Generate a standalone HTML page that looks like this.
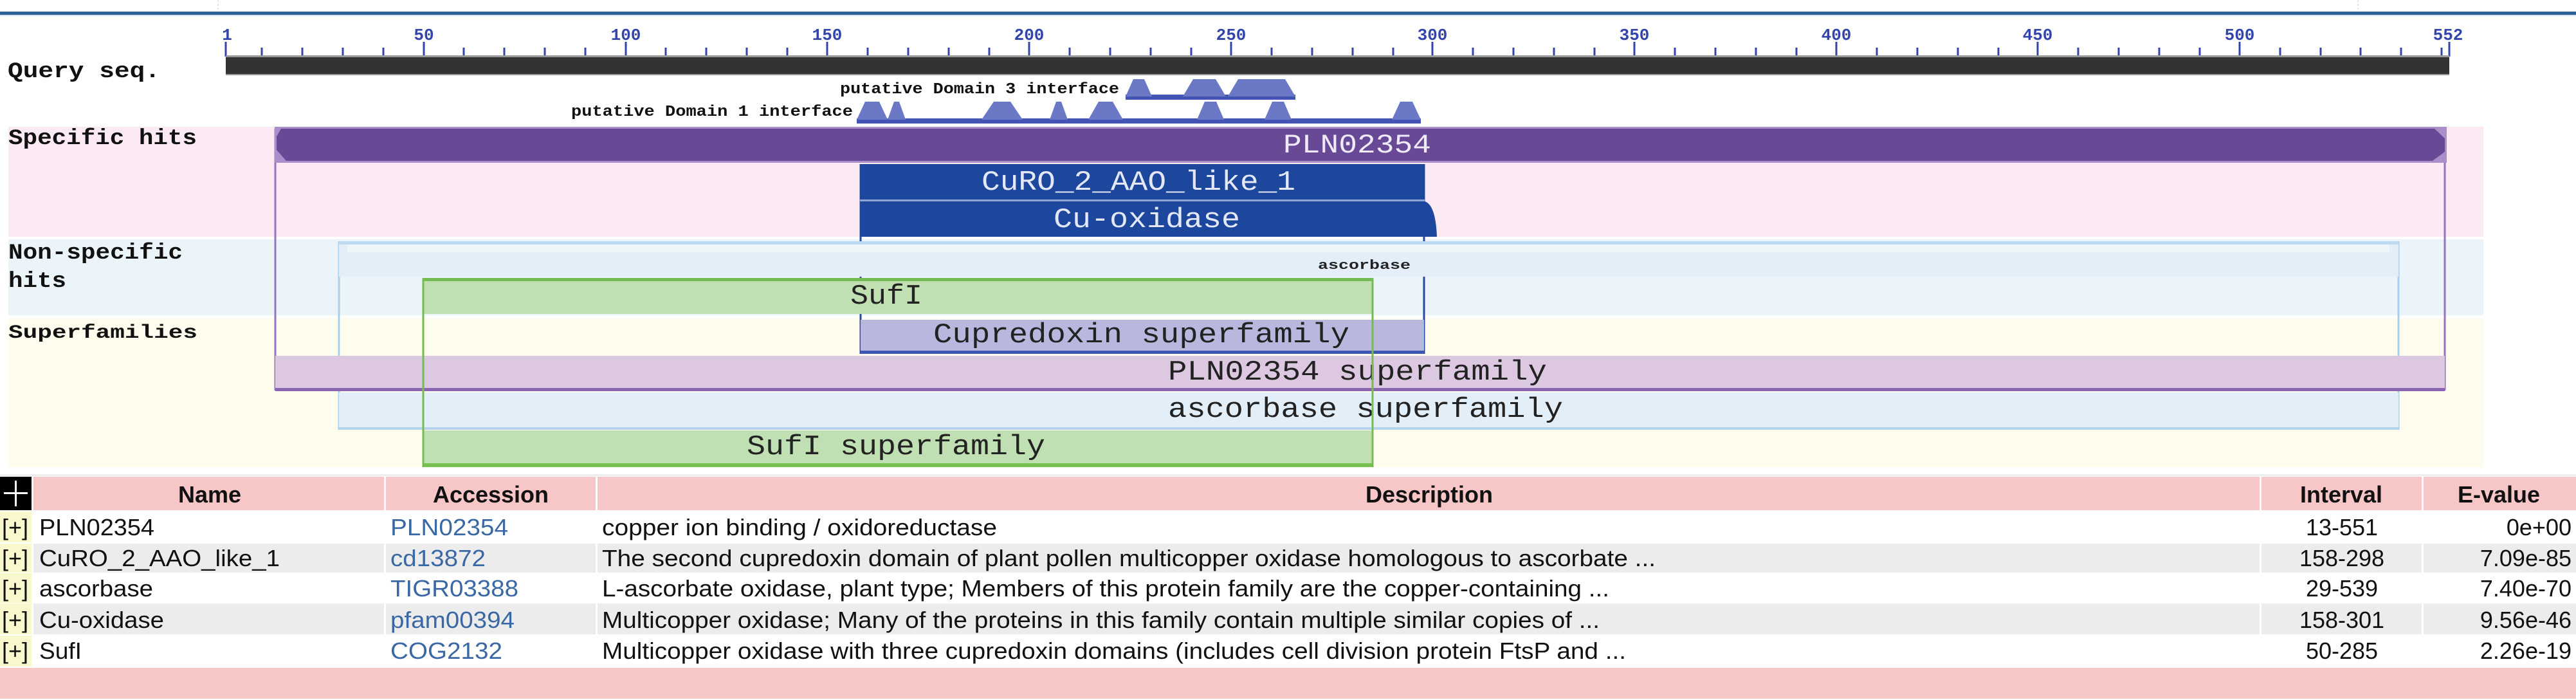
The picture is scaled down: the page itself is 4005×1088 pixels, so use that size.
<!DOCTYPE html>
<html><head><meta charset="utf-8"><style>
html,body{margin:0;padding:0;background:#fff;}
svg{display:block;}
.m{font-family:"Liberation Mono","DejaVu Sans Mono",monospace;}
.s{font-family:"Liberation Sans",sans-serif;}
</style></head><body>
<svg width="4005" height="1088" viewBox="0 0 4005 1088" xmlns="http://www.w3.org/2000/svg">
<!-- top line -->
<rect x="0" y="18" width="4005" height="5" fill="#2e6099"/>
<rect x="0" y="23" width="4005" height="2" fill="#d3e2f0"/>
<line x1="339" y1="0" x2="339" y2="18" stroke="#ccc" stroke-dasharray="3,3"/>
<line x1="3666" y1="0" x2="3666" y2="18" stroke="#ccc" stroke-dasharray="3,3"/>

<!-- bands -->
<rect x="13" y="197" width="3848" height="171" fill="#fbeaf3"/>
<rect x="13" y="372" width="3848" height="118" fill="#ebf5f9"/>
<rect x="13" y="495" width="3848" height="231" fill="#fefcec"/>

<!-- ruler ticks -->
<g stroke="#3344aa" stroke-width="3">
<line x1="351" y1="65" x2="351" y2="88"/><line x1="659" y1="65" x2="659" y2="88"/><line x1="973" y1="65" x2="973" y2="88"/><line x1="1286" y1="65" x2="1286" y2="88"/><line x1="1600" y1="65" x2="1600" y2="88"/><line x1="1914" y1="65" x2="1914" y2="88"/><line x1="2227" y1="65" x2="2227" y2="88"/><line x1="2541" y1="65" x2="2541" y2="88"/><line x1="2855" y1="65" x2="2855" y2="88"/><line x1="3168" y1="65" x2="3168" y2="88"/><line x1="3482" y1="65" x2="3482" y2="88"/><line x1="3808" y1="65" x2="3808" y2="88"/>
</g>
<g stroke="#3344aa" stroke-width="3" id="minor"></g>
<g stroke="#3344aa" stroke-width="3">
<line x1="407" y1="74" x2="407" y2="88"/><line x1="470" y1="74" x2="470" y2="88"/><line x1="533" y1="74" x2="533" y2="88"/><line x1="596" y1="74" x2="596" y2="88"/>
<line x1="721" y1="74" x2="721" y2="88"/><line x1="784" y1="74" x2="784" y2="88"/><line x1="847" y1="74" x2="847" y2="88"/><line x1="910" y1="74" x2="910" y2="88"/>
<line x1="1035" y1="74" x2="1035" y2="88"/><line x1="1098" y1="74" x2="1098" y2="88"/><line x1="1161" y1="74" x2="1161" y2="88"/><line x1="1224" y1="74" x2="1224" y2="88"/>
<line x1="1349" y1="74" x2="1349" y2="88"/><line x1="1412" y1="74" x2="1412" y2="88"/><line x1="1475" y1="74" x2="1475" y2="88"/><line x1="1538" y1="74" x2="1538" y2="88"/>
<line x1="1663" y1="74" x2="1663" y2="88"/><line x1="1726" y1="74" x2="1726" y2="88"/><line x1="1789" y1="74" x2="1789" y2="88"/><line x1="1852" y1="74" x2="1852" y2="88"/>
<line x1="1977" y1="74" x2="1977" y2="88"/><line x1="2040" y1="74" x2="2040" y2="88"/><line x1="2103" y1="74" x2="2103" y2="88"/><line x1="2166" y1="74" x2="2166" y2="88"/>
<line x1="2290" y1="74" x2="2290" y2="88"/><line x1="2353" y1="74" x2="2353" y2="88"/><line x1="2416" y1="74" x2="2416" y2="88"/><line x1="2479" y1="74" x2="2479" y2="88"/>
<line x1="2604" y1="74" x2="2604" y2="88"/><line x1="2667" y1="74" x2="2667" y2="88"/><line x1="2730" y1="74" x2="2730" y2="88"/><line x1="2793" y1="74" x2="2793" y2="88"/>
<line x1="2918" y1="74" x2="2918" y2="88"/><line x1="2981" y1="74" x2="2981" y2="88"/><line x1="3044" y1="74" x2="3044" y2="88"/><line x1="3107" y1="74" x2="3107" y2="88"/>
<line x1="3231" y1="74" x2="3231" y2="88"/><line x1="3294" y1="74" x2="3294" y2="88"/><line x1="3357" y1="74" x2="3357" y2="88"/><line x1="3420" y1="74" x2="3420" y2="88"/>
<line x1="3545" y1="74" x2="3545" y2="88"/><line x1="3608" y1="74" x2="3608" y2="88"/><line x1="3670" y1="74" x2="3670" y2="88"/><line x1="3733" y1="74" x2="3733" y2="88"/><line x1="3796" y1="74" x2="3796" y2="88"/>
</g>
<g class="m" font-weight="bold" font-size="26" fill="#3344aa" text-anchor="middle">
<text x="353" y="62">1</text><text x="659" y="62">50</text><text x="973" y="62">100</text><text x="1286" y="62">150</text><text x="1600" y="62">200</text><text x="1914" y="62">250</text><text x="2227" y="62">300</text><text x="2541" y="62">350</text><text x="2855" y="62">400</text><text x="3168" y="62">450</text><text x="3482" y="62">500</text><text x="3806" y="62">552</text>
</g>
<!-- query bar -->
<rect x="351" y="86" width="3457" height="31" fill="#999"/>
<rect x="351" y="89" width="3457" height="26" fill="#333"/>

<!-- row labels -->
<g class="m" font-weight="bold" font-size="34" fill="#111">
<text x="12" y="120" textLength="237" lengthAdjust="spacingAndGlyphs">Query seq.</text>
<text x="13" y="224" textLength="293" lengthAdjust="spacingAndGlyphs">Specific hits</text>
<text x="13" y="402" textLength="271" lengthAdjust="spacingAndGlyphs">Non-specific</text>
<text x="13" y="446" textLength="90" lengthAdjust="spacingAndGlyphs">hits</text>
<text x="13" y="525" font-size="30" textLength="294" lengthAdjust="spacingAndGlyphs">Superfamilies</text>
</g>

<!-- domain features -->
<g class="m" font-size="24" fill="#111" font-weight="bold">
<text x="1306" y="145" textLength="434" lengthAdjust="spacingAndGlyphs">putative Domain 3 interface</text>
<text x="888" y="180" textLength="438" lengthAdjust="spacingAndGlyphs">putative Domain 1 interface</text>
</g>
<rect x="1750" y="147" width="264" height="8" fill="#4454b4"/>
<rect x="1332" y="184" width="877" height="8" fill="#4454b4"/>
<g fill="#6a78c6">
<polygon points="1750,150 1762,123 1779,123 1791,150"/>
<polygon points="1839,150 1855,123 1890,123 1906,150"/>
<polygon points="1909,150 1925,123 1998,123 2014,150"/>
<polygon points="1332,186 1345,158 1367,158 1380,186"/>
<polygon points="1380,186 1390,158 1398,158 1408,186"/>
<polygon points="1526,186 1545,158 1571,158 1590,186"/>
<polygon points="1632,186 1642,158 1650,158 1660,186"/>
<polygon points="1692,186 1708,158 1730,158 1746,186"/>
<polygon points="1861,186 1873,158 1891,158 1903,186"/>
<polygon points="1966,186 1978,158 1996,158 2008,186"/>
<polygon points="2164,186 2177,158 2196,158 2209,186"/>
</g>

<!-- outline verticals -->
<g fill="none">
<line x1="428" y1="200" x2="428" y2="607" stroke="#9474c0" stroke-width="3"/>
<line x1="3801" y1="200" x2="3801" y2="607" stroke="#9474c0" stroke-width="3"/>
<line x1="527" y1="375" x2="527" y2="668" stroke="#a8d0f0" stroke-width="3"/>
<line x1="3729" y1="375" x2="3729" y2="668" stroke="#a8d0f0" stroke-width="3"/>
<line x1="1338" y1="255" x2="1338" y2="550" stroke="#2a4aa0" stroke-width="3"/>
<line x1="2214" y1="255" x2="2214" y2="550" stroke="#2a4aa0" stroke-width="3"/>
</g>

<!-- specific hits -->
<rect x="427" y="197" width="3377" height="56" fill="#a98fca"/>
<path d="M437,200 L3785,200 L3801,215 L3801,236 L3782,250 L445,250 L430,233 L430,212 Z" fill="#674996"/>
<text class="m" x="1995" y="237" font-size="42" fill="#f0eaf8" textLength="230" lengthAdjust="spacingAndGlyphs">PLN02354</text>
<rect x="1337" y="255" width="878" height="55" fill="#1c479c"/>
<rect x="1337" y="310" width="878" height="3" fill="#8ea4d4"/>
<path d="M1337,313 L2215,313 Q2232,318 2234,368 L1337,368 Z" fill="#1c479c"/>
<text class="m" x="1526" y="295" font-size="44" fill="#e4e8f6" textLength="488" lengthAdjust="spacingAndGlyphs">CuRO_2_AAO_like_1</text>
<text class="m" x="1638" y="353" font-size="44" fill="#e4e8f6" textLength="290" lengthAdjust="spacingAndGlyphs">Cu-oxidase</text>

<!-- non-specific -->
<rect x="527" y="375" width="3202" height="5" fill="#bcdaf2"/>
<rect x="527" y="380" width="3202" height="50" fill="#e4eef8"/>
<rect x="540" y="380" width="3175" height="12" fill="#eef6fa"/>
<text class="m" x="2049" y="418" font-size="20" font-weight="bold" fill="#222" textLength="144" lengthAdjust="spacingAndGlyphs">ascorbase</text>
<rect x="658" y="432" width="1477" height="56" fill="#c0e0b4"/>
<rect x="658" y="432" width="1477" height="5" fill="#74bc52"/>
<text class="m" x="1322" y="472" font-size="44" fill="#222" textLength="112" lengthAdjust="spacingAndGlyphs">SufI</text>
<line x1="658" y1="488" x2="658" y2="726" stroke="#74bc52" stroke-width="3"/>
<line x1="2134" y1="488" x2="2134" y2="726" stroke="#74bc52" stroke-width="3"/>

<!-- superfamilies -->
<rect x="1338" y="497" width="876" height="48" fill="#b8b8de"/>
<rect x="1338" y="545" width="876" height="5" fill="#3c56b0"/>
<text class="m" x="1451" y="532" font-size="44" fill="#222" textLength="647" lengthAdjust="spacingAndGlyphs">Cupredoxin superfamily</text>
<rect x="428" y="553" width="3373" height="50" fill="#dcc8e0"/>
<rect x="428" y="603" width="3373" height="5" fill="#8c64b4"/>
<text class="m" x="1816" y="590" font-size="44" fill="#222" textLength="589" lengthAdjust="spacingAndGlyphs">PLN02354 superfamily</text>
<rect x="527" y="610" width="3202" height="54" fill="#e2eef8"/>
<rect x="527" y="664" width="3202" height="4" fill="#b4d4ee"/>
<text class="m" x="1816" y="648" font-size="44" fill="#222" textLength="614" lengthAdjust="spacingAndGlyphs">ascorbase superfamily</text>
<rect x="658" y="669" width="1476" height="52" fill="#c0e0b4"/>
<rect x="658" y="720" width="1476" height="6" fill="#78c050"/>
<text class="m" x="1161" y="706" font-size="44" fill="#222" textLength="464" lengthAdjust="spacingAndGlyphs">SufI superfamily</text>
<line x1="658" y1="432" x2="658" y2="726" stroke="#74bc52" stroke-width="3"/>
<line x1="2134" y1="432" x2="2134" y2="726" stroke="#74bc52" stroke-width="3"/>

<!-- table -->
<rect x="0" y="737" width="4005" height="3" fill="#eee"/>
<rect x="0" y="741" width="49" height="52" fill="#000"/>
<rect x="23" y="747" width="3" height="40" fill="#fff"/><rect x="6" y="765" width="37" height="3" fill="#fff"/>
<rect x="52" y="741" width="545" height="52" fill="#f7c6c7"/>
<rect x="600" y="741" width="326" height="52" fill="#f7c6c7"/>
<rect x="929" y="741" width="2584" height="52" fill="#f7c6c7"/>
<rect x="3516" y="741" width="249" height="52" fill="#f7c6c7"/>
<rect x="3768" y="741" width="237" height="52" fill="#f7c6c7"/>
<g class="s" font-weight="bold" font-size="36" fill="#111" text-anchor="middle">
<text x="326" y="781">Name</text><text x="763" y="781">Accession</text><text x="2222" y="781">Description</text><text x="3640" y="781">Interval</text><text x="3885" y="781">E-value</text>
</g>
<g fill="#ececec">
<rect x="52" y="845" width="545" height="45"/><rect x="600" y="845" width="326" height="45"/><rect x="929" y="845" width="2584" height="45"/><rect x="3516" y="845" width="249" height="45"/><rect x="3768" y="845" width="237" height="45"/>
<rect x="52" y="938" width="545" height="48"/><rect x="600" y="938" width="326" height="48"/><rect x="929" y="938" width="2584" height="48"/><rect x="3516" y="938" width="249" height="48"/><rect x="3768" y="938" width="237" height="48"/>
</g>
<g fill="#f8f8cc">
<rect x="0" y="795" width="49" height="48"/><rect x="0" y="845" width="49" height="45"/><rect x="0" y="891" width="49" height="46"/><rect x="0" y="938" width="49" height="48"/><rect x="0" y="988" width="49" height="48"/>
</g>
<g class="s" font-size="36" fill="#111">
<text x="3" y="832">[+]</text><text x="3" y="880">[+]</text><text x="3" y="927">[+]</text><text x="3" y="976">[+]</text><text x="3" y="1024">[+]</text>
<text x="61" y="832" textLength="179" lengthAdjust="spacingAndGlyphs">PLN02354</text>
<text x="61" y="880" textLength="374" lengthAdjust="spacingAndGlyphs">CuRO_2_AAO_like_1</text>
<text x="61" y="927" textLength="177" lengthAdjust="spacingAndGlyphs">ascorbase</text>
<text x="61" y="976" textLength="194" lengthAdjust="spacingAndGlyphs">Cu-oxidase</text>
<text x="61" y="1024" textLength="66" lengthAdjust="spacingAndGlyphs">SufI</text>
<text x="936" y="832" textLength="614" lengthAdjust="spacingAndGlyphs">copper ion binding / oxidoreductase</text>
<text x="936" y="880" textLength="1638" lengthAdjust="spacingAndGlyphs">The second cupredoxin domain of plant pollen multicopper oxidase homologous to ascorbate ...</text>
<text x="936" y="927" textLength="1566" lengthAdjust="spacingAndGlyphs">L-ascorbate oxidase, plant type; Members of this protein family are the copper-containing ...</text>
<text x="936" y="976" textLength="1551" lengthAdjust="spacingAndGlyphs">Multicopper oxidase; Many of the proteins in this family contain multiple similar copies of ...</text>
<text x="936" y="1024" textLength="1592" lengthAdjust="spacingAndGlyphs">Multicopper oxidase with three cupredoxin domains (includes cell division protein FtsP and ...</text>
<g text-anchor="middle">
<text x="3641" y="832">13-551</text><text x="3641" y="880">158-298</text><text x="3641" y="927">29-539</text><text x="3641" y="976">158-301</text><text x="3641" y="1024">50-285</text>
</g>
<g text-anchor="end">
<text x="3998" y="832">0e+00</text><text x="3998" y="880">7.09e-85</text><text x="3998" y="927">7.40e-70</text><text x="3998" y="976">9.56e-46</text><text x="3998" y="1024">2.26e-19</text>
</g>
</g>
<g class="s" font-size="36" fill="#3a68a4">
<text x="607" y="832" textLength="183" lengthAdjust="spacingAndGlyphs">PLN02354</text>
<text x="607" y="880" textLength="148" lengthAdjust="spacingAndGlyphs">cd13872</text>
<text x="607" y="927" textLength="199" lengthAdjust="spacingAndGlyphs">TIGR03388</text>
<text x="607" y="976" textLength="193" lengthAdjust="spacingAndGlyphs">pfam00394</text>
<text x="607" y="1024" textLength="174" lengthAdjust="spacingAndGlyphs">COG2132</text>
</g>
<rect x="0" y="1038" width="4005" height="48" fill="#f7c6c7"/>
</svg>
</body></html>
